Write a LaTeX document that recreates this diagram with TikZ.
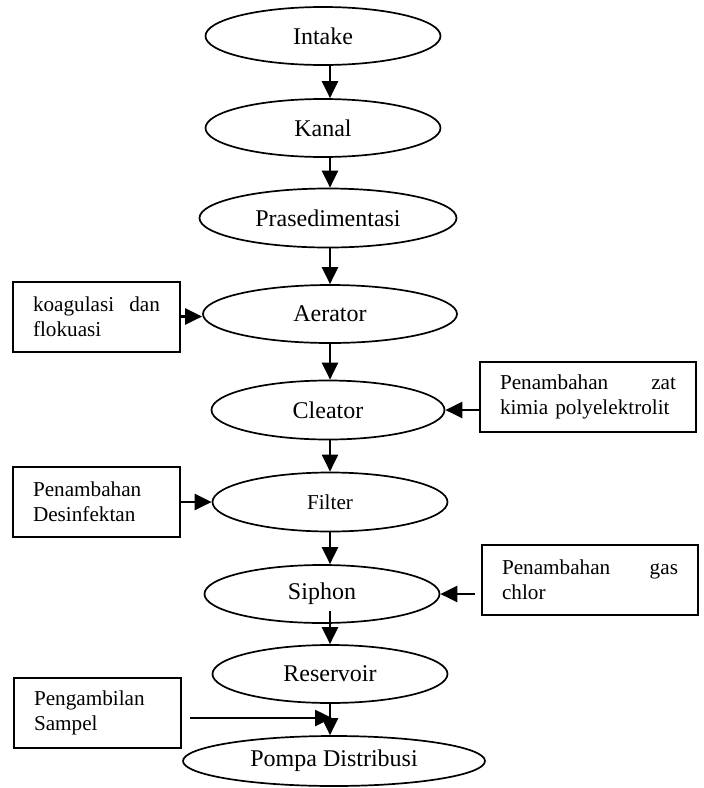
\documentclass[tikz,border=0pt]{standalone}
\usepackage{fontspec}
\setmainfont{Liberation Serif}
\usetikzlibrary{arrows.meta,shapes.geometric,calc}

\begin{document}
\begin{tikzpicture}[x=0.5pt,y=-0.5pt]
        \tikzset{proses/.style={draw,ellipse,line width=0.85pt,inner sep=0pt,
                minimum width=117.5pt,minimum height=29pt,font=\fontsize{12}{14}\selectfont},
            kotak/.style={draw,rectangle,line width=1pt,inner xsep=10pt,inner ysep=3pt,
                minimum height=35pt,align=left,font=\fontsize{10.6}{12.5}\selectfont},
            kiri/.style={kotak,text width=63.5pt},
            kanan/.style={kotak,text width=88pt},
            panah/.style={line width=1.3pt,-{Triangle[length=8.5pt,width=8pt]}}}
        \useasboundingbox (0,0) rectangle (704,788);
        \coordinate (sumbu) at (330,0);
        % alur utama
        \node[proses] (intake) at (323,36) {Intake};
        \node[proses] (kanal) at (323,128) {Kanal};
        \node[proses,minimum width=128.5pt,minimum height=29.5pt] (prased) at (328,218) {Prasedimentasi};
        \node[proses,minimum width=127pt] (aerator) at (330,314) {Aerator};
        \node[proses,minimum width=116.5pt,minimum height=29.5pt] (cleator) at (328,410) {Cleator};
        \node[proses,minimum height=29.5pt,font=\fontsize{10.6}{12}\selectfont] (filter) at (330,502) {Filter};
        \node[proses] (siphon) at (322,594) {Siphon};
        \node[proses] (reservoir) at (330,674) {Reservoir};
        \node[proses,minimum width=151pt,minimum height=25pt] (pompa) at (334,761) {Pompa Distribusi};
        % kotak tambahan
        \node[kiri] (koagulasi) at (96.5,316.5) {koagulasi \hfill dan\\ flokuasi};
        \node[kanan] (zat) at (588,396.5) {Penambahan \hfill zat\\ kimia polyelektrolit};
        \node[kiri] (desinfektan) at (96.5,502) {Penambahan\\ Desinfektan};
        \node[kanan] (chlor) at (590,579.5) {Penambahan \hfill gas\\ chlor};
        \node[kiri] (sampel) at (97.5,712.5) {Pengambilan\\ Sampel};
        \coordinate (masuk) at (332,718);
        % panah
        \draw[panah] (intake.south -| sumbu) -- (kanal.north -| sumbu);
        \draw[panah] (kanal.south -| sumbu) -- (prased.north -| sumbu);
        \draw[panah] (prased.south -| sumbu) -- (aerator.north -| sumbu);
        \draw[panah] (aerator.south -| sumbu) -- (cleator.north -| sumbu);
        \draw[panah] (cleator.south -| sumbu) -- (filter.north -| sumbu);
        \draw[panah] (filter.south -| sumbu) -- (siphon.north -| sumbu);
        \draw[panah] ($(siphon.south -| sumbu)+(0,6.5pt)$) -- (reservoir.north -| sumbu);
        \draw[panah] (reservoir.south -| sumbu) -- (pompa.north -| sumbu);
        \draw[panah] (koagulasi.east) -- (koagulasi.east -| aerator.west);
        \draw[panah] (zat.west |- cleator.east) -- (cleator.east);
        \draw[panah] (desinfektan.east) -- (filter.west);
        \draw[panah] ($(chlor.west |- siphon.east)+(-3pt,0)$) -- (siphon.east);
        \draw[panah] ($(sampel.east |- masuk)+(4pt,0)$) -- (masuk);
    \end{tikzpicture}
\end{document}
